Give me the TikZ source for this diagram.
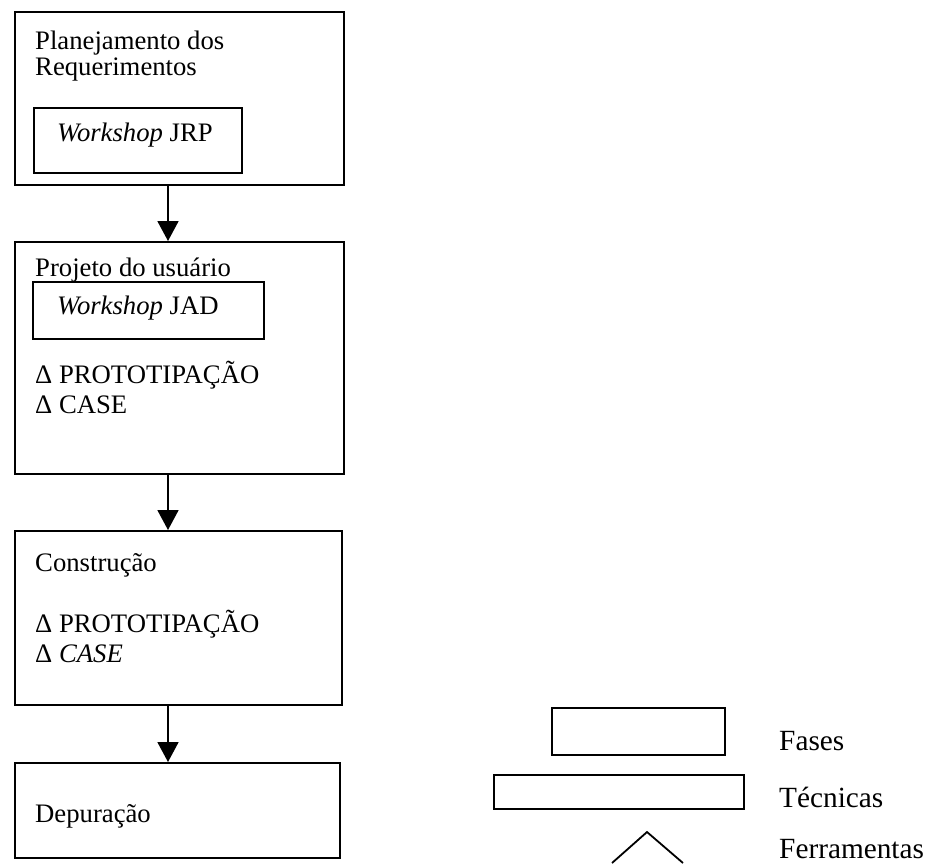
\documentclass[tikz,border=0pt]{standalone}
\usepackage{fontspec}
\setmainfont{Liberation Serif}
\usetikzlibrary{arrows.meta}
\begin{document}
\begin{tikzpicture}[x=1pt,y=-1pt,
  box/.style={draw,line width=1.8pt,rectangle,inner sep=0pt,anchor=north west},
  txt/.style={inner sep=0pt,anchor=base west,font=\fontsize{26.7}{30}\selectfont},
  legtxt/.style={inner sep=0pt,anchor=base west,font=\fontsize{29.3}{34}\selectfont},
  flow/.style={line width=1.8pt,-{Triangle[length=20pt,width=21pt]}}]
\useasboundingbox (0,0) rectangle (928,863);

% phases
\node[box,minimum width=329pt,minimum height=173pt] (b1) at (14,11) {};
\node[box,minimum width=329pt,minimum height=232pt] (b2) at (14,241) {};
\node[box,minimum width=327pt,minimum height=174pt] (b3) at (14,530) {};
\node[box,minimum width=325pt,minimum height=95pt] (b4) at (14,762) {};

% techniques inside phases
\node[box,minimum width=208pt,minimum height=65pt] (w1) at (33,107) {};
\node[box,minimum width=231pt,minimum height=57pt] (w2) at (32,281) {};

% texts of phase 1
\node[txt] (t11) at (35,49) {Planejamento dos};
\node[txt] (t12) at (35,75) {Requerimentos};
\node[txt] (t13) at (57,141) {\textit{Workshop} JRP};

% texts of phase 2
\node[txt] (t21) at (35,276) {Projeto do usuário};
\node[txt] (t22) at (57,314) {\textit{Workshop} JAD};
\node[txt] (t23) at (35,383) {Δ PROTOTIPAÇÃO};
\node[txt] (t24) at (35,413) {Δ CASE};

% texts of phase 3
\node[txt] (t31) at (35,571) {Construção};
\node[txt] (t32) at (35,632) {Δ PROTOTIPAÇÃO};
\node[txt] (t33) at (35,662) {Δ \textit{CASE}};

% text of phase 4
\node[txt] (t41) at (35,822) {Depuração};

% flow between phases
\coordinate (ax) at (168,0);
\draw[flow] (b1.south -| ax) -- (b2.north -| ax);
\draw[flow] (b2.south -| ax) -- (b3.north -| ax);
\draw[flow] (b3.south -| ax) -- (b4.north -| ax);

% legend
\node[box,minimum width=173pt,minimum height=47pt] (lf) at (551,707) {};
\node[box,minimum width=250pt,minimum height=34pt] (lt) at (493,774) {};
\coordinate (tl) at (612,863);
\coordinate (ta) at (647,832);
\coordinate (tr) at (683,863);
\draw[line width=1.8pt] (tl) -- (ta) -- (tr);
\node[legtxt] (lfx) at (779,750) {Fases};
\node[legtxt] (ltx) at (779,807) {Técnicas};
\node[legtxt] (lrx) at (779,858) {Ferramentas};
\end{tikzpicture}
\end{document}
